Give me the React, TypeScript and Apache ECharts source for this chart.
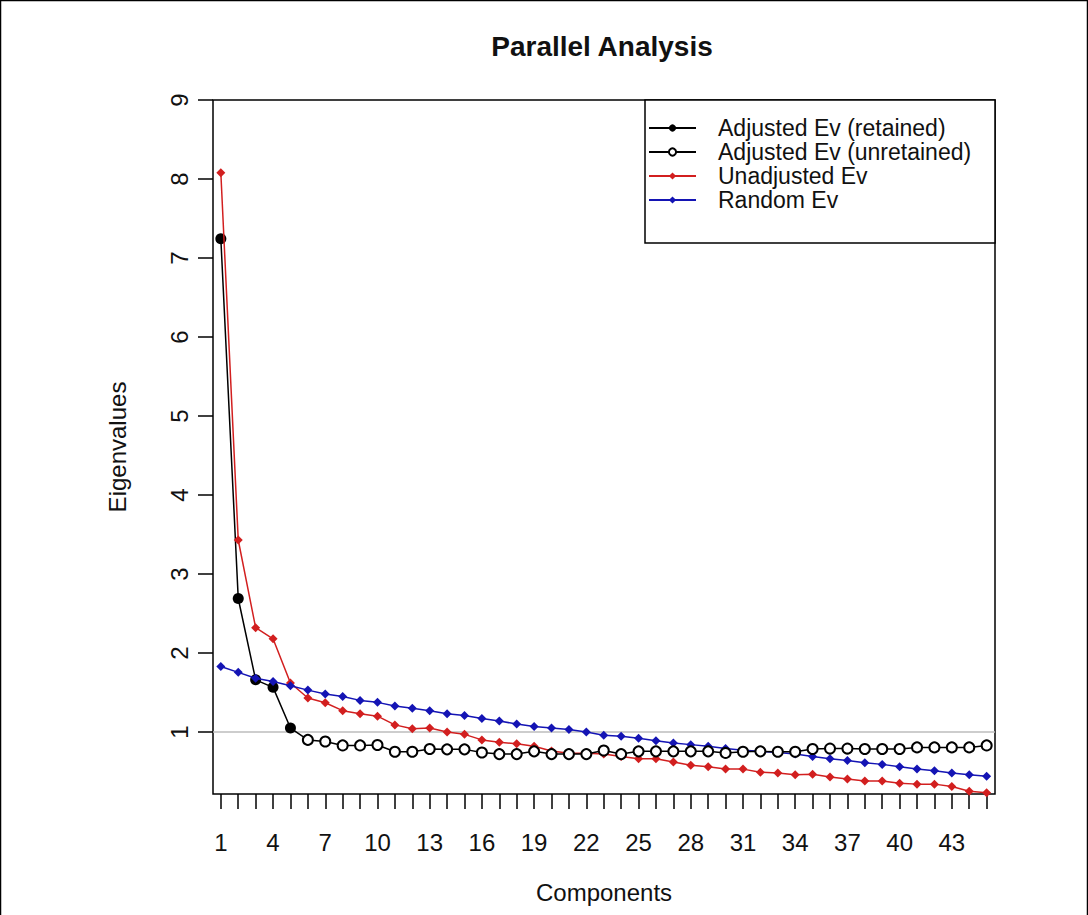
import React, { useEffect, useRef } from "react";
import * as echarts from "echarts";

const components = [1, 2, 3, 4, 5, 6, 7, 8, 9, 10, 11, 12, 13, 14, 15, 16, 17, 18, 19, 20, 21, 22, 23, 24, 25, 26, 27, 28, 29, 30, 31, 32, 33, 34, 35, 36, 37, 38, 39, 40, 41, 42, 43, 44, 45];

const adjustedEv = [7.245, 2.69, 1.66, 1.565, 1.05, 0.9, 0.88, 0.83, 0.83, 0.835, 0.75, 0.75, 0.785, 0.78, 0.78, 0.74, 0.72, 0.72, 0.755, 0.72, 0.72, 0.72, 0.765, 0.72, 0.755, 0.755, 0.755, 0.755, 0.755, 0.735, 0.75, 0.755, 0.75, 0.75, 0.785, 0.79, 0.79, 0.785, 0.785, 0.785, 0.805, 0.805, 0.805, 0.805, 0.83];

const unadjustedEv = [8.08, 3.43, 2.32, 2.18, 1.62, 1.43, 1.37, 1.27, 1.23, 1.2, 1.09, 1.04, 1.05, 1.0, 0.97, 0.9, 0.87, 0.85, 0.82, 0.76, 0.73, 0.73, 0.72, 0.69, 0.66, 0.66, 0.62, 0.58, 0.56, 0.53, 0.53, 0.49, 0.48, 0.46, 0.465, 0.43, 0.405, 0.38, 0.38, 0.35, 0.34, 0.34, 0.31, 0.25, 0.23];

const randomEv = [1.83, 1.755, 1.68, 1.64, 1.585, 1.53, 1.48, 1.45, 1.4, 1.375, 1.33, 1.3, 1.27, 1.23, 1.21, 1.17, 1.14, 1.1, 1.07, 1.05, 1.03, 1.0, 0.96, 0.945, 0.92, 0.89, 0.86, 0.84, 0.82, 0.79, 0.77, 0.755, 0.74, 0.72, 0.69, 0.66, 0.64, 0.61, 0.59, 0.56, 0.53, 0.51, 0.48, 0.46, 0.44];

const retainedCount = 5;
const referenceLine = 1;

const xTickLabels = [1, 4, 7, 10, 13, 16, 19, 22, 25, 28, 31, 34, 37, 40, 43];
const yTickLabels = [1, 2, 3, 4, 5, 6, 7, 8, 9];

const legendNames = [
  "Adjusted Ev (retained)",
  "Adjusted Ev (unretained)",
  "Unadjusted Ev",
  "Random Ev",
];

const FONT = "'Liberation Sans', Arial, sans-serif";
const RED = "#d21f1f";
const BLUE = "#1414b4";

export default function App() {
  const ref = useRef<HTMLDivElement>(null);

  useEffect(() => {
    if (!ref.current) return;
    const chart = echarts.init(ref.current, undefined, { renderer: "svg" });

    const retainedData = components
      .slice(0, retainedCount)
      .map((c, i) => [c, adjustedEv[i]]);
    const unretainedData: any[] = components
      .slice(retainedCount - 1)
      .map((c, k) => {
        const i = k + retainedCount - 1;
        if (k === 0) return { value: [c, adjustedEv[i]], symbol: "none" };
        return [c, adjustedEv[i]];
      });
    const redData = components.map((c, i) => [c, unadjustedEv[i]]);
    const blueData = components.map((c, i) => [c, randomEv[i]]);

    const option: any = {
      animation: false,
      backgroundColor: "#ffffff",
      grid: {
        left: 213,
        top: 100,
        width: 782,
        height: 694,
        show: true,
        borderColor: "#000",
        borderWidth: 1.5,
        backgroundColor: "transparent",
        containLabel: false,
        outerBoundsMode: "none",
      },
      xAxis: {
        type: "value",
        min: 0.55,
        max: 45.48,
        name: "Components",
        nameLocation: "middle",
        nameGap: 86,
        nameTextStyle: { fontSize: 24, color: "#111", fontFamily: FONT },
        axisLine: { show: false },
        axisTick: {
          show: true,
          inside: false,
          length: 15,
          lineStyle: { color: "#000", width: 1.5 },
          customValues: components,
        },
        axisLabel: {
          show: true,
          margin: 36,
          fontSize: 24,
          color: "#111",
          fontFamily: FONT,
          customValues: xTickLabels,
        },
        splitLine: { show: false },
      },
      yAxis: {
        type: "value",
        min: 0.215,
        max: 9,
        name: "Eigenvalues",
        nameLocation: "middle",
        nameRotate: 90,
        nameGap: 84,
        nameTextStyle: { fontSize: 24, color: "#111", fontFamily: FONT },
        axisLine: { show: false },
        axisTick: {
          show: true,
          inside: false,
          length: 15,
          lineStyle: { color: "#000", width: 1.5 },
          customValues: yTickLabels,
        },
        axisLabel: {
          show: true,
          rotate: 90,
          margin: 22,
          fontSize: 24,
          color: "#111",
          fontFamily: FONT,
          customValues: yTickLabels,
        },
        splitLine: { show: false },
      },
      legend: {
        orient: "vertical",
        left: 645,
        top: 100,
        padding: [16, 0, 0, 3],
        itemGap: 0,
        itemWidth: 47,
        itemHeight: 9,
        selectedMode: false,
        textStyle: {
          fontSize: 23,
          color: "#111",
          fontFamily: FONT,
          lineHeight: 24,
          padding: [0, 0, 0, 17],
        },
        data: legendNames,
        z: 5,
      },
      graphic: [
        {
          type: "polyline",
          shape: { points: [[0.5, 915], [0.5, 0.5], [1087.5, 0.5], [1087.5, 915]] },
          style: { stroke: "#000", fill: null, lineWidth: 1.5 },
          silent: true,
        },
        {
          type: "text",
          x: 602,
          y: 46,
          style: {
            text: "Parallel Analysis",
            font: `bold 28px ${FONT}`,
            fill: "#111",
            textAlign: "center",
            textVerticalAlign: "middle",
          },
          silent: true,
        },
        {
          type: "rect",
          z: 3,
          shape: { x: 645, y: 100, width: 350, height: 143 },
          style: { fill: "#fff", stroke: "#000", lineWidth: 1.5 },
          silent: true,
        },
      ],
      series: [
        {
          name: legendNames[0],
          type: "line",
          data: retainedData,
          symbol: "circle",
          symbolSize: 11,
          showAllSymbol: true,
          itemStyle: { color: "#000" },
          lineStyle: { color: "#000", width: 1.5 },
          z: 3,
          markLine: {
            silent: true,
            symbol: ["none", "none"],
            label: { show: false },
            lineStyle: { color: "#bdbdbd", type: "solid", width: 1.5 },
            data: [{ yAxis: referenceLine }],
            z: 1,
          },
        },
        {
          name: legendNames[1],
          type: "line",
          data: unretainedData,
          symbol: "emptyCircle",
          symbolSize: 10,
          showAllSymbol: true,
          itemStyle: { color: "#000", borderColor: "#000", borderWidth: 1.5 },
          lineStyle: { color: "#000", width: 1.5 },
          z: 5,
        },
        {
          name: legendNames[2],
          type: "line",
          data: redData,
          symbol: "diamond",
          symbolSize: 9,
          showAllSymbol: true,
          itemStyle: { color: RED },
          lineStyle: { color: RED, width: 1.5 },
          z: 4,
        },
        {
          name: legendNames[3],
          type: "line",
          data: blueData,
          symbol: "diamond",
          symbolSize: 9,
          showAllSymbol: true,
          itemStyle: { color: BLUE },
          lineStyle: { color: BLUE, width: 1.5 },
          z: 4,
        },
      ],
    };

    chart.setOption(option);
    return () => {
      chart.dispose();
    };
  }, []);

  return (
    <div
      ref={ref}
      style={{ position: "fixed", left: 0, top: 0, width: 1088, height: 915, background: "#fff" }}
    />
  );
}
